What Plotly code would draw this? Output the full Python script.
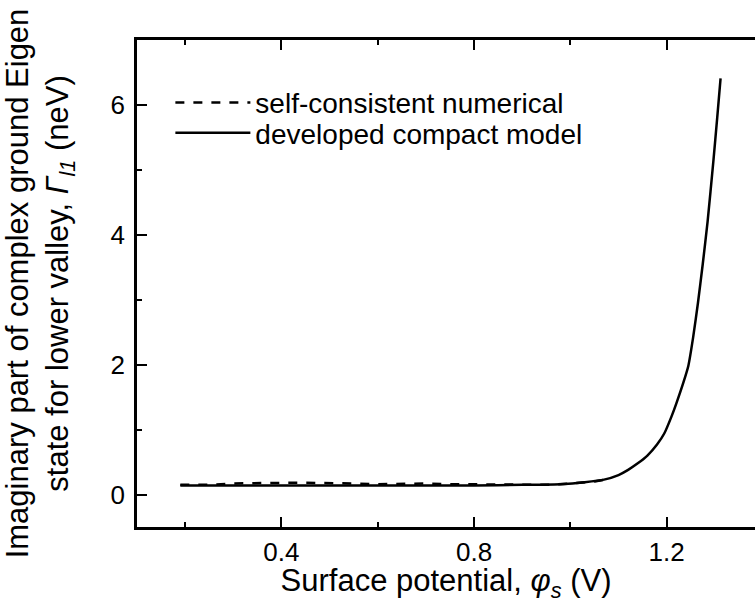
import plotly.graph_objects as go

# Developed compact model (solid)
model_x = [0.19, 0.30, 0.40, 0.50, 0.60, 0.70, 0.80, 0.90, 0.98, 1.03, 1.07, 1.10, 1.12,
           1.14, 1.16, 1.18, 1.195, 1.21, 1.22, 1.235, 1.245, 1.255, 1.265, 1.275, 1.285,
           1.297, 1.305, 1.312]
model_y = [0.14, 0.14, 0.14, 0.14, 0.14, 0.14, 0.14, 0.15, 0.16, 0.19, 0.23, 0.30, 0.38,
           0.48, 0.60, 0.77, 0.94, 1.20, 1.40, 1.73, 1.98, 2.42, 2.95, 3.55, 4.20,
           5.13, 5.80, 6.41]

# Self-consistent numerical (dashed)
num_x = [0.19, 0.25, 0.30, 0.35, 0.40, 0.45, 0.50, 0.55, 0.60, 0.65, 0.70, 0.75, 0.80,
         0.85, 0.90, 0.95, 1.00, 1.05, 1.08]
num_y = [0.15, 0.15, 0.17, 0.18, 0.18, 0.18, 0.18, 0.17, 0.16, 0.17, 0.17, 0.16, 0.16,
         0.16, 0.16, 0.15, 0.17, 0.20, 0.24]

x_ticks = [0.4, 0.8, 1.2]
x_minor = [0.2, 0.6, 1.0]
y_ticks = [0, 2, 4, 6]
y_minor = [1, 3, 5, 7]

FONT = "Liberation Sans, Arial, sans-serif"

fig = go.Figure()
fig.add_trace(go.Scatter(x=num_x, y=num_y, mode="lines", name="self-consistent numerical",
                         line=dict(color="black", width=2.5, dash="dash"), legend="legend"))
fig.add_trace(go.Scatter(x=model_x, y=model_y, mode="lines", name="developed compact model",
                         line=dict(color="black", width=2.5, shape="spline", smoothing=0.5),
                         legend="legend2"))

leg_common = dict(xanchor="left", yanchor="middle", bgcolor="rgba(0,0,0,0)",
                  font=dict(size=28), itemwidth=75)

fig.update_layout(
    width=755, height=603,
    margin=dict(l=137, r=0, t=40, b=76),
    plot_bgcolor="white", paper_bgcolor="white",
    font=dict(family=FONT, size=26, color="black"),
    showlegend=True,
    legend=dict(x=0.054, y=0.871, **leg_common),
    legend2=dict(x=0.054, y=0.809, **leg_common),
    xaxis=dict(range=[0.1, 1.3835], tickmode="array", tickvals=x_ticks,
               ticktext=[f"{v:.1f}" for v in x_ticks],
               ticks="inside", ticklen=10, tickwidth=2, tickcolor="black",
               showline=True, linecolor="black", linewidth=2.5, mirror="ticks",
               showgrid=False, zeroline=False,
               minor=dict(tickvals=x_minor, ticks="inside", ticklen=5,
                          tickwidth=2, tickcolor="black", showgrid=False),
               title=dict(text="Surface potential, <i>φ<sub>s</sub></i> (V)", standoff=4)),
    yaxis=dict(range=[-0.5, 7], tickmode="array", tickvals=y_ticks,
               ticktext=[str(v) for v in y_ticks], ticklabelstandoff=4,
               ticks="inside", ticklen=10, tickwidth=2, tickcolor="black",
               showline=True, linecolor="black", linewidth=2.5, mirror=False,
               showgrid=False, zeroline=False,
               minor=dict(tickvals=y_minor, ticks="inside", ticklen=5,
                          tickwidth=2, tickcolor="black", showgrid=False),
               title=dict(text="Imaginary part of complex ground Eigen<br>state for lower valley, "
                               "<i>Γ<sub>l1</sub></i> (neV)", standoff=48)),
    yaxis2=dict(range=[-0.5, 7], overlaying="y", side="right", anchor="x",
                tickmode="array", tickvals=y_ticks, showticklabels=False,
                ticks="inside", ticklen=2, tickwidth=2, tickcolor="black",
                showline=False, showgrid=False, zeroline=False),
)

fig.write_html("out.html",
               config={"displayModeBar": False},
               post_script="document.body.style.margin='0';"
                           "document.body.style.overflow='hidden';")
